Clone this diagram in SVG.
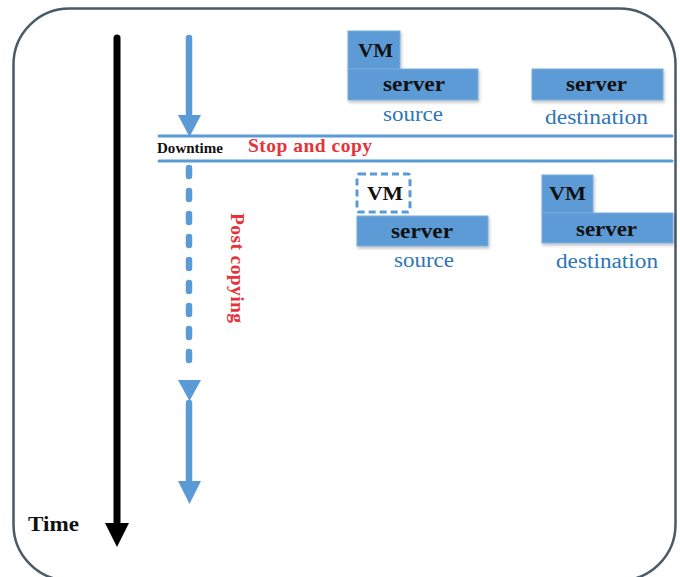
<svg xmlns="http://www.w3.org/2000/svg" width="680" height="577" viewBox="0 0 680 577">
  <style>
    .frame { fill: #ffffff; stroke: #4a5b68; stroke-width: 2.5; }
    .box { fill: #5b9bd5; stroke: #7aaee0; stroke-width: 1; filter: url(#shadow); }
    .vmdash { fill: #ffffff; stroke: #5b9bd5; stroke-width: 3; stroke-dasharray: 7 4; }
    .lbl { font-family: "Liberation Serif", "Times New Roman", serif; font-weight: bold; fill: #111111; }
    .role { font-family: "Liberation Serif", "Times New Roman", serif; font-size: 20px; fill: #2e75b6; }
    .red { font-family: "Liberation Serif", "Times New Roman", serif; font-weight: bold; fill: #e8323a; font-size: 19.5px; }
    .blue { stroke: #5b9bd5; fill: none; stroke-linecap: round; }
    .head { fill: #5b9bd5; }
  </style>
  <defs>
    <filter id="shadow" x="-10%" y="-10%" width="130%" height="140%">
      <feDropShadow dx="1" dy="2" stdDeviation="1.5" flood-color="#000000" flood-opacity="0.25"/>
    </filter>
  </defs>

  <!-- outer frame -->
  <rect class="frame" x="13.5" y="8.5" width="662" height="572" rx="56" ry="56"/>

  <!-- time axis -->
  <g id="time-axis">
    <line x1="117" y1="38" x2="117" y2="528" stroke="#000000" stroke-width="7" stroke-linecap="round"/>
    <polygon points="105,523 129,523 117,547" fill="#000000"/>
    <text class="lbl" x="28" y="531" font-size="20" textLength="51" lengthAdjust="spacingAndGlyphs">Time</text>
  </g>

  <!-- connectors: phase arrows and downtime band -->
  <g id="connectors">
    <line class="blue" x1="189" y1="38" x2="189" y2="118" stroke-width="6.5"/>
    <polygon class="head" points="178,115 201,115 189.5,137"/>

    <line class="blue" x1="159" y1="136" x2="672" y2="136" stroke-width="3"/>
    <line class="blue" x1="159" y1="161" x2="672" y2="161" stroke-width="3"/>

    <line class="blue" x1="189" y1="168" x2="189" y2="374" stroke-width="6.5" stroke-dasharray="8 15"/>
    <polygon class="head" points="178,380 201,380 189.5,401"/>
    <line class="blue" x1="189" y1="403" x2="189" y2="486" stroke-width="6.5"/>
    <polygon class="head" points="178,481 201,481 189.5,504"/>
  </g>

  <g id="downtime-labels">
    <text class="lbl" x="157" y="153" font-size="15" textLength="66" lengthAdjust="spacingAndGlyphs">Downtime</text>
    <text class="red" x="248" y="152" textLength="124" lengthAdjust="spacing">Stop and copy</text>
    <text class="red" transform="translate(231,213) rotate(90)" textLength="110" lengthAdjust="spacing">Post copying</text>
  </g>

  <!-- before migration: source -->
  <g id="source-before">
    <rect class="box" x="348" y="31" width="52" height="38"/>
    <rect class="box" x="348" y="69" width="130" height="31"/>
    <text class="lbl" x="358" y="57" font-size="19" textLength="35" lengthAdjust="spacingAndGlyphs">VM</text>
    <text class="lbl" x="383" y="91" font-size="21" textLength="62" lengthAdjust="spacingAndGlyphs">server</text>
    <text class="role" x="383" y="121" textLength="60" lengthAdjust="spacingAndGlyphs">source</text>
  </g>

  <!-- before migration: destination -->
  <g id="destination-before">
    <rect class="box" x="532" y="69" width="131" height="31"/>
    <text class="lbl" x="566" y="91" font-size="21" textLength="61" lengthAdjust="spacingAndGlyphs">server</text>
    <text class="role" x="545" y="124" textLength="103" lengthAdjust="spacingAndGlyphs">destination</text>
  </g>

  <!-- after stop and copy: source -->
  <g id="source-after">
    <rect class="vmdash" x="357" y="174" width="53" height="38" rx="2"/>
    <rect class="box" x="357" y="216" width="131" height="30"/>
    <text class="lbl" x="367" y="200" font-size="19" textLength="36" lengthAdjust="spacingAndGlyphs">VM</text>
    <text class="lbl" x="391" y="238" font-size="21" textLength="62" lengthAdjust="spacingAndGlyphs">server</text>
    <text class="role" x="394" y="267" textLength="60" lengthAdjust="spacingAndGlyphs">source</text>
  </g>

  <!-- after stop and copy: destination -->
  <g id="destination-after">
    <rect class="box" x="542" y="175" width="51" height="38"/>
    <rect class="box" x="542" y="213" width="131" height="30"/>
    <text class="lbl" x="549" y="200" font-size="19" textLength="37" lengthAdjust="spacingAndGlyphs">VM</text>
    <text class="lbl" x="576" y="236" font-size="21" textLength="61" lengthAdjust="spacingAndGlyphs">server</text>
    <text class="role" x="556" y="268" textLength="102" lengthAdjust="spacingAndGlyphs">destination</text>
  </g>
</svg>
